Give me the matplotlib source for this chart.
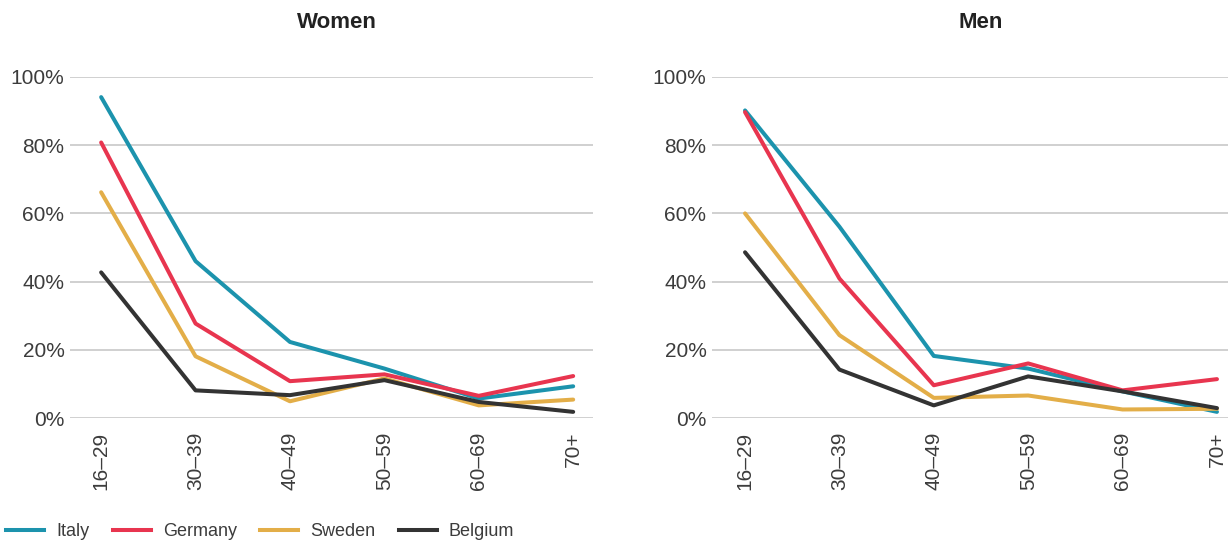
"""
Share by age group, women and men, four countries
"""
import matplotlib
matplotlib.use('Agg')
import matplotlib.pyplot as plt

plt.rcParams['font.family'] = ['Liberation Sans', 'DejaVu Sans']

# data
age_groups = ['16–29', '30–39', '40–49', '50–59', '60–69', '70+']
countries = ['Italy', 'Germany', 'Sweden', 'Belgium']
colors = ['#1c93ad', '#e8354f', '#e3ae48', '#333333']

women_italy = [94.1, 46.0, 22.3, 14.5, 5.7, 9.3]
women_germany = [80.8, 27.7, 10.8, 12.8, 6.5, 12.3]
women_sweden = [66.2, 18.1, 4.9, 11.6, 3.7, 5.4]
women_belgium = [42.7, 8.1, 6.7, 11.1, 4.7, 1.8]

men_italy = [90.2, 56.1, 18.2, 14.5, 7.8, 1.8]
men_germany = [89.7, 40.9, 9.6, 16.0, 8.1, 11.4]
men_sweden = [60.0, 24.3, 5.9, 6.6, 2.5, 2.7]
men_belgium = [48.6, 14.2, 3.7, 12.2, 7.8, 2.9]

y_ticks = [0, 20, 40, 60, 80, 100]
y_tick_labels = ['0%', '20%', '40%', '60%', '80%', '100%']

W, H = 1228, 540
text_col = '#3c3c3c'
fig = plt.figure(figsize=(W / 100, H / 100), dpi=100)


def draw_panel(rect, title, title_x, series, xlim):
    ax = fig.add_axes(rect)
    x = list(range(len(age_groups)))
    for vals, c in zip(series, colors):
        ax.plot(x, vals, color=c, lw=2.9, solid_capstyle='round', clip_on=False, zorder=3)
    ax.set_xlim(*xlim)
    ax.set_ylim(0, 100)
    ax.set_yticks(y_ticks)
    ax.set_yticklabels(y_tick_labels)
    ax.set_xticks(x)
    ax.set_xticklabels(age_groups, rotation=90)
    ax.grid(axis='y', color='#c8c8c8', lw=1.2)
    ax.set_axisbelow(True)
    for s in ax.spines.values():
        s.set_visible(False)
    ax.tick_params(axis='y', length=0, pad=4, labelsize=15, labelcolor=text_col)
    ax.tick_params(axis='x', length=0, pad=10, labelsize=15, labelcolor=text_col)
    fig.text(title_x / W, 1 - 23 / H, title, ha='center', va='center',
             fontsize=16, fontweight='bold', color='#222222')
    return ax


ax1 = draw_panel([70 / W, 1 - 418 / H, 523 / W, 341 / H], 'Women', 337,
                 [women_italy, women_germany, women_sweden, women_belgium],
                 (-0.33, 5.21))
ax2 = draw_panel([712 / W, 1 - 418 / H, 538 / W, 341 / H], 'Men', 981,
                 [men_italy, men_germany, men_sweden, men_belgium],
                 (-0.35, 5.35))

handles = [plt.Line2D([], [], color=c, lw=2.9) for c in colors]
fig.legend(handles, countries, loc='center left', bbox_to_anchor=(6 / W, 1 - 532 / H),
           ncol=4, frameon=False, fontsize=13, handlelength=2.1, handletextpad=0.67,
           columnspacing=1.3, borderpad=0, borderaxespad=0, labelcolor=text_col)

plt.savefig('out.png', dpi=100)
